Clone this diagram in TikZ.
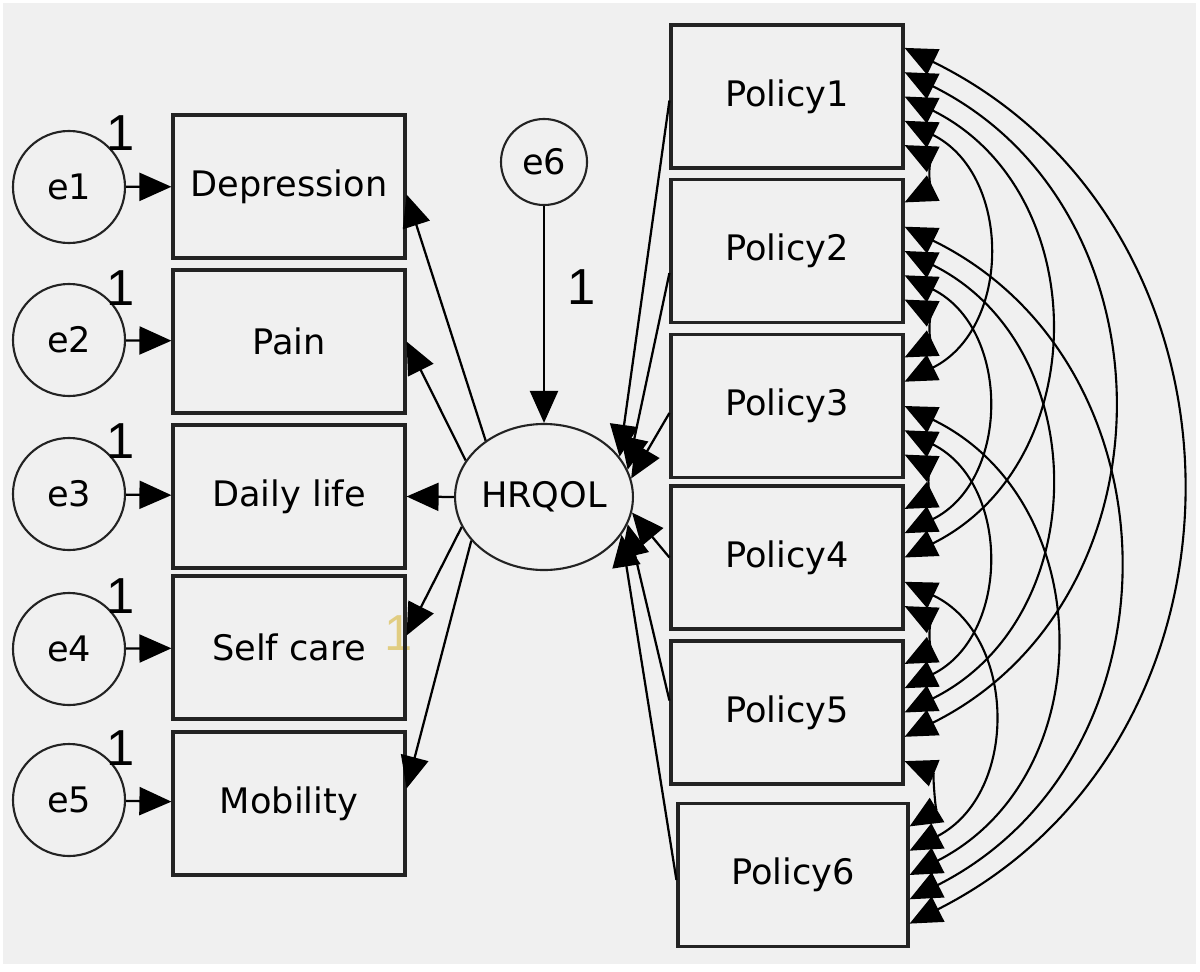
\documentclass[tikz,border=0pt]{standalone}
\usepackage{fontspec}
\setmainfont{DejaVu Sans}
\newfontfamily\onefamily{Liberation Sans}
\usepackage{xcolor}
\definecolor{amosback}{RGB}{240, 240, 240}
\definecolor{amosline}{RGB}{35, 35, 35}
\definecolor{amosfaint}{RGB}{225, 205, 130}
\usetikzlibrary{calc,arrows.meta,shapes.geometric}

\begin{document}
\begin{tikzpicture}[x=0.025cm, y=-0.025cm,
    labelfont/.style={font=\fontsize{25}{30}\selectfont},
    onefont/.style={font=\onefamily\fontsize{36}{40}\selectfont},
    obsbox/.style={draw=amosline, line width=2.2pt, minimum width=5.8cm, minimum height=3.575cm, inner sep=0pt, labelfont},
    errcirc/.style={circle, draw=amosline, line width=1.5pt, minimum size=2.8cm, inner sep=0pt, labelfont},
    effect/.style={line width=1.6pt, -{Triangle[length=0.8cm, width=0.7cm]}},
    cov/.style={line width=1.5pt, {Triangle[length=0.8cm, width=0.7cm]}-{Triangle[length=0.8cm, width=0.7cm]}, bend left=63.5, looseness=1.18}]

      % canvas
      \fill[white] (0, 0) rectangle (1200, 971);
      \fill[amosback] (3, 3) rectangle (1196, 964);
      \useasboundingbox (0, 0) rectangle (1200, 971);

      % indicators
      \node[onefont, text=amosfaint] (w7) at (399, 633) {1};
      \node[obsbox] (dep) at (289, 186.5) {Depression};
      \node[obsbox] (pain) at (289, 341.5) {Pain};
      \node[obsbox] (daily) at (289, 496.5) {Daily life};
      \node[obsbox] (self) at (289, 647.5) {Self care};
      \node[obsbox] (mob) at (289, 803.5) {Mobility};

      % errors
      \node[errcirc] (e1) at (69, 187) {e1};
      \node[errcirc] (e2) at (69, 340) {e2};
      \node[errcirc] (e3) at (69, 494) {e3};
      \node[errcirc] (e4) at (69, 649) {e4};
      \node[errcirc] (e5) at (69, 800) {e5};
      \node[errcirc, minimum size=2.15cm] (e6) at (544, 162) {e6};

      \node[onefont] (w1) at (121, 133) {1};
      \node[onefont] (w2) at (121, 288) {1};
      \node[onefont] (w3) at (121, 441) {1};
      \node[onefont] (w4) at (121, 596) {1};
      \node[onefont] (w5) at (121, 748) {1};
      \node[onefont] (w6) at (582, 287) {1};

      % latent
      \node[ellipse, draw=amosline, line width=1.5pt, minimum width=4.35cm, minimum height=3.65cm, inner sep=0pt, labelfont] (hrqol) at (544, 497) {HRQOL};

      % policies
      \node[obsbox] (p1) at (787, 96.5) {Policy1};
      \node[obsbox] (p2) at (787, 251) {Policy2};
      \node[obsbox] (p3) at (787, 406) {Policy3};
      \node[obsbox] (p4) at (787, 557.5) {Policy4};
      \node[obsbox] (p5) at (787, 712.5) {Policy5};
      \node[obsbox, minimum width=5.75cm] (p6) at (793, 875) {Policy6};

      \draw[effect] (e1) -- (dep);
      \draw[effect] (e2) -- (pain);
      \draw[effect] (e3) -- (daily);
      \draw[effect] (e4) -- (self);
      \draw[effect] (e5) -- (mob);
      \draw[effect] (e6) -- (hrqol);

      \draw[effect] (hrqol.136) -- ($(dep.east)+(0, 8)$);
      \draw[effect] (hrqol.155) -- (pain.east);
      \draw[effect] (hrqol.west) -- (daily.east);
      \draw[effect] (hrqol.200) -- ($(self.east)+(0, -12)$);
      \draw[effect] (hrqol.211) -- ($(mob.east)+(0, -15)$);

      \draw[effect] ($(p1.west)+(0, 4)$) -- (hrqol.28);
      \draw[effect] ($(p2.west)+(0, 22)$) -- (hrqol.18);
      \draw[effect] ($(p3.west)+(0, 7)$) -- (hrqol.12);
      \draw[effect] (p4.west) -- (hrqol.-10);
      \draw[effect] ($(p5.west)+(0, -12)$) -- (hrqol.-18);
      \draw[effect] ($(p6.west)+(0, 5)$) -- (hrqol.-26);

      % covariances
      \draw[cov] ($(p1.east)+(0, 48.6)$) to ($(p2.east)+(0, -48.6)$);
      \draw[cov] ($(p1.east)+(0, 24.3)$) to ($(p3.east)+(0, -24.3)$);
      \draw[cov] (p1.east) to (p4.east);
      \draw[cov] ($(p1.east)+(0, -24.3)$) to ($(p5.east)+(0, 24.3)$);
      \draw[cov] ($(p1.east)+(0, -48.6)$) to ($(p6.east)+(0, 48.6)$);
      \draw[cov] ($(p2.east)+(0, 48.6)$) to ($(p3.east)+(0, -48.6)$);
      \draw[cov] ($(p2.east)+(0, 24.3)$) to ($(p4.east)+(0, -24.3)$);
      \draw[cov] (p2.east) to (p5.east);
      \draw[cov] ($(p2.east)+(0, -24.3)$) to ($(p6.east)+(0, 24.3)$);
      \draw[cov] ($(p3.east)+(0, 48.6)$) to ($(p4.east)+(0, -48.6)$);
      \draw[cov] ($(p3.east)+(0, 24.3)$) to ($(p5.east)+(0, -24.3)$);
      \draw[cov] (p3.east) to (p6.east);
      \draw[cov] ($(p4.east)+(0, 48.6)$) to ($(p5.east)+(0, -48.6)$);
      \draw[cov] ($(p4.east)+(0, 24.3)$) to ($(p6.east)+(0, -24.3)$);
      \draw[cov] ($(p5.east)+(0, 48.6)$) to ($(p6.east)+(0, -48.6)$);
\end{tikzpicture}
\end{document}
